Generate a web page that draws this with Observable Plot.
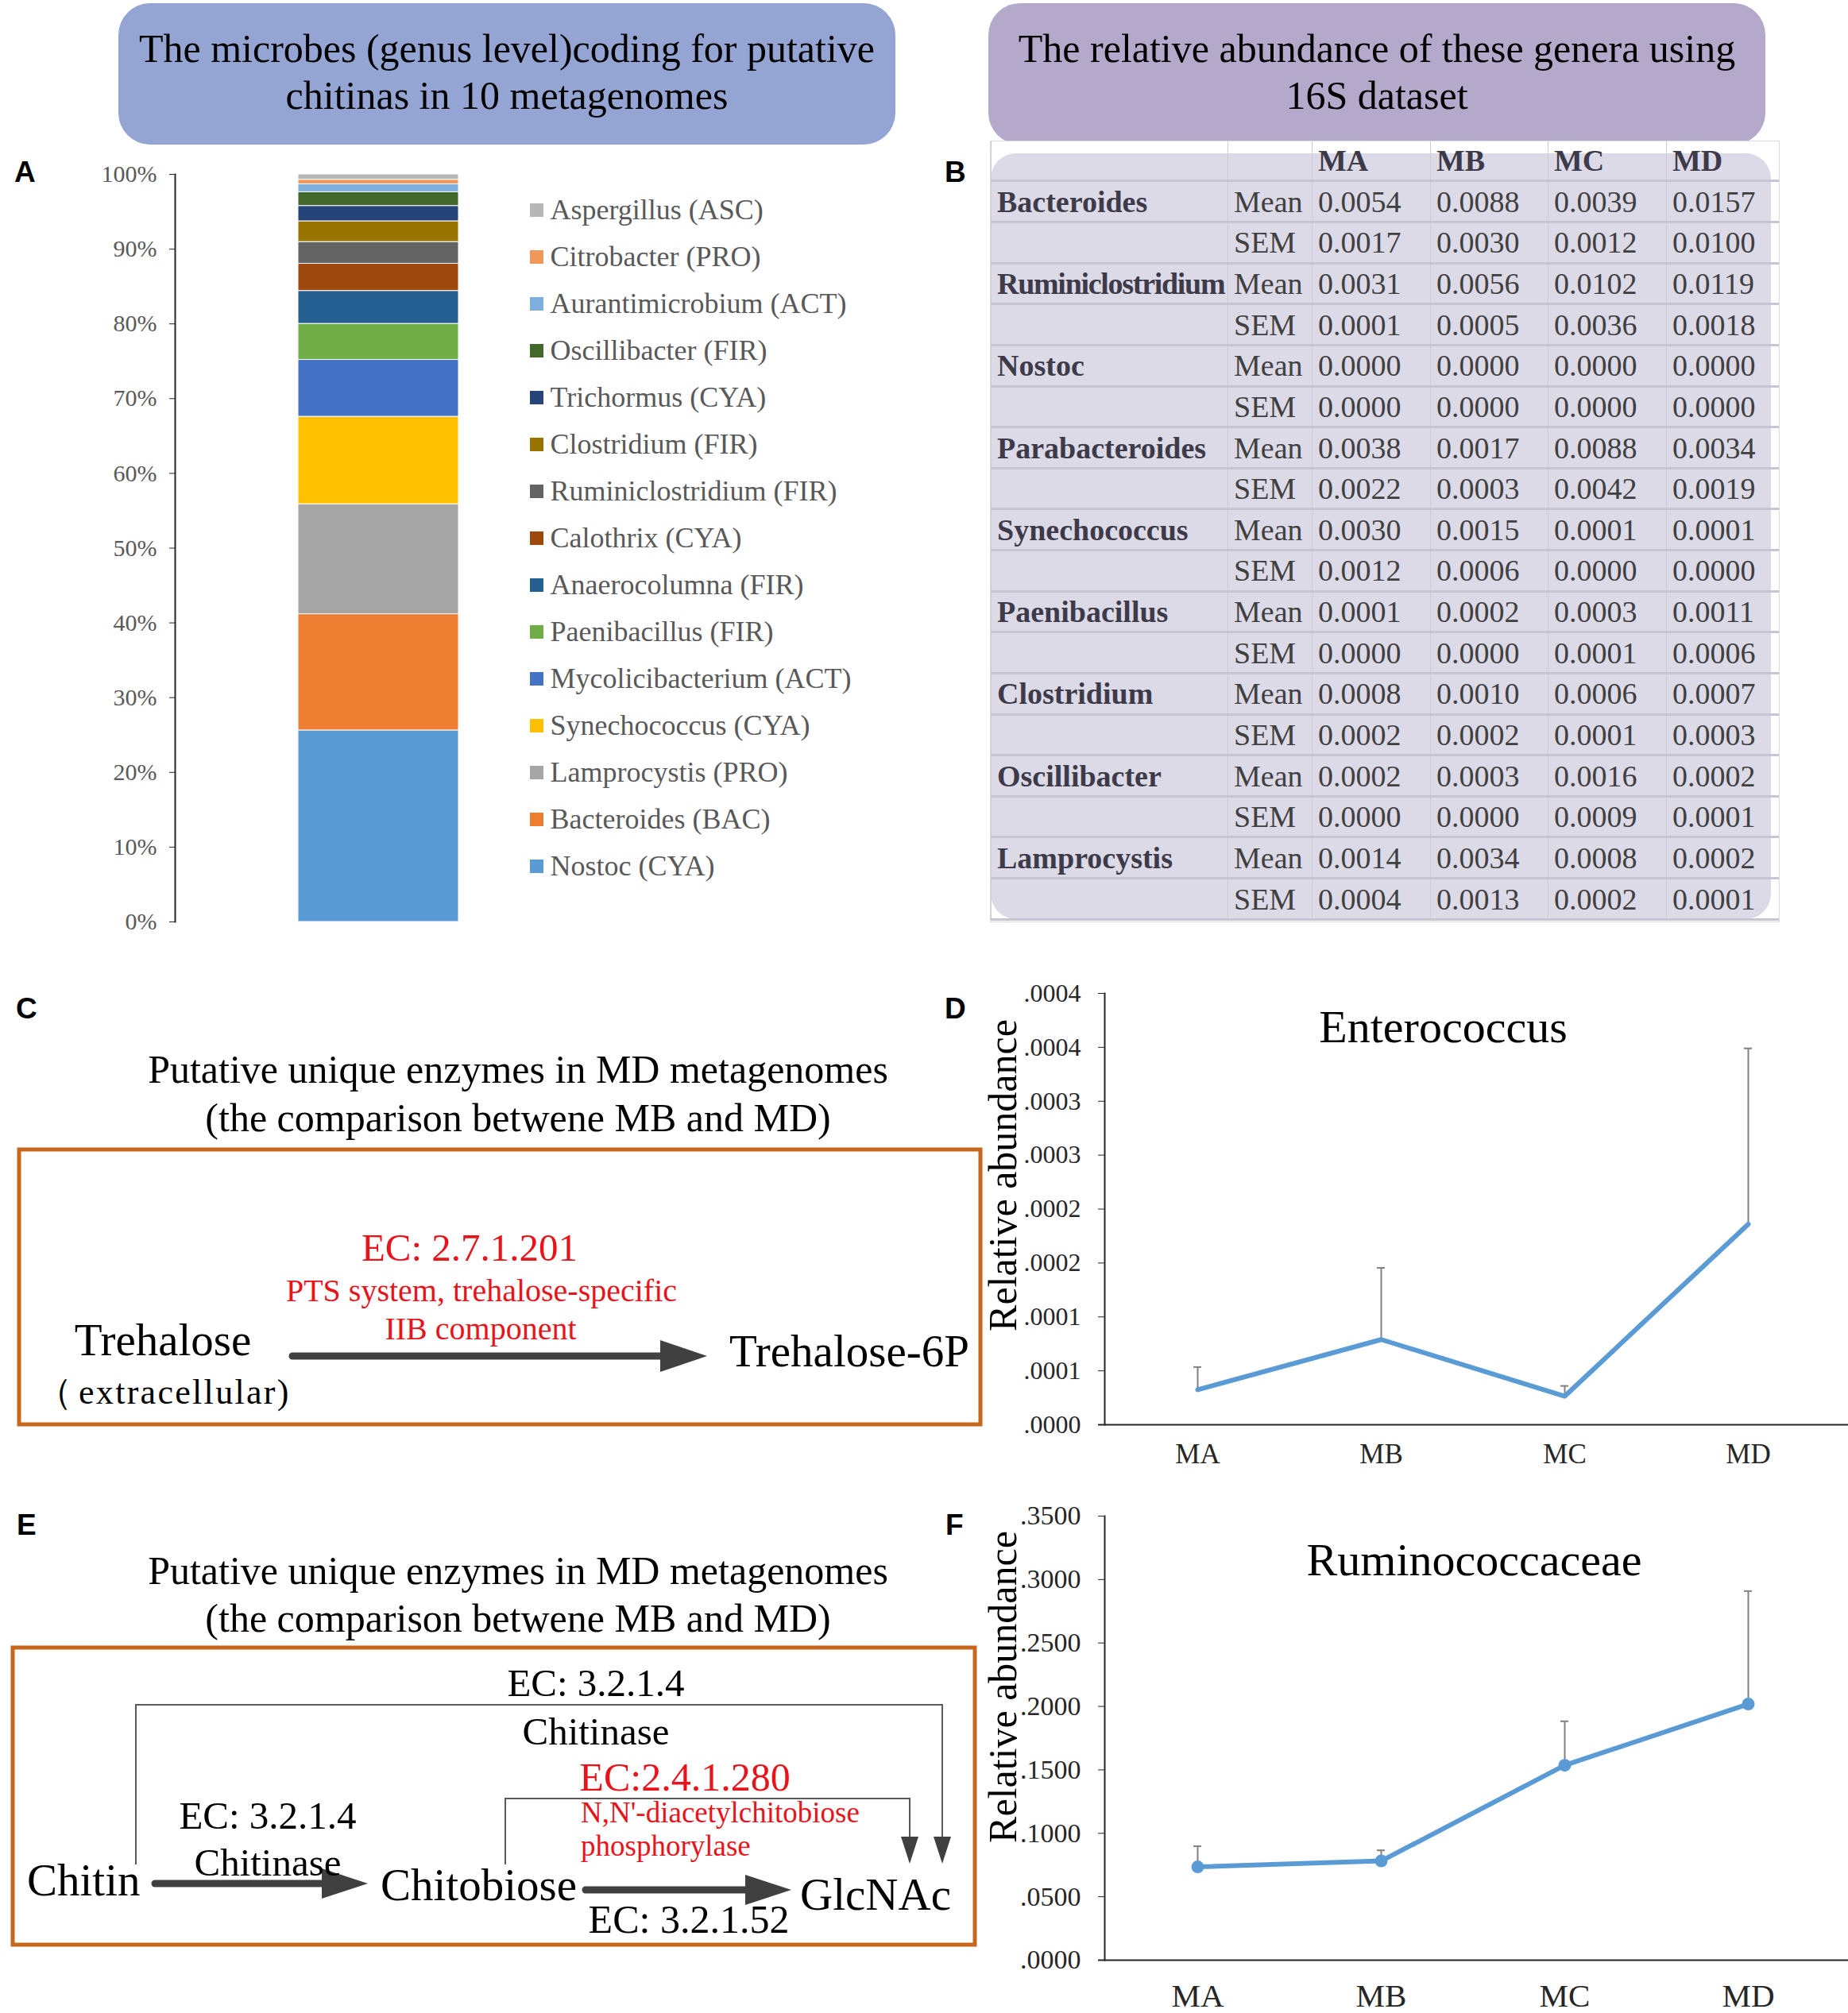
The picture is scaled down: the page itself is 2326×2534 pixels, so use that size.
<!DOCTYPE html>
<html>
<head>
<meta charset="utf-8">
<script src="https://cdn.jsdelivr.net/npm/d3@7"></script>
<script src="https://cdn.jsdelivr.net/npm/@observablehq/plot@0.6"></script>
<style>
  body { margin: 0; background: #fff; }
  #root { position: relative; width: 2326px; height: 2534px; overflow: hidden; background: #fff;
          font-family: "Liberation Serif", "Times New Roman", serif; }
  .box { position: absolute; display: flex; align-items: center; justify-content: center; text-align: center;
         font-size: 50px; line-height: 59px; color: #000; box-sizing: border-box; padding-bottom: 4px; }
  #tblwrap { position: absolute; left: 1246px; top: 177px; width: 994px; height: 984px; box-sizing: border-box;
             border: 1.5px solid #DADADA; background: #fff; }
  #tblbg { position: absolute; left: 0; top: 15px; width: 982px; height: 964px; border-radius: 32px; background: #DDDAE8; }
  #tbl { position: absolute; left: 0; top: 0; width: 991px; height: 981px; border-collapse: collapse; table-layout: fixed;
         font-size: 38px; color: #404040; }
  #tbl td { padding: 0 0 0 7px; white-space: nowrap; overflow: hidden; vertical-align: middle;
            border-left: 1.5px solid #CBCAD5; border-bottom: 3px solid #C6C5D1; }
  #tbl td.name, #tbl td.head { font-weight: bold; color: #3D3B4A; }
</style>
</head>
<body>
<div id="root"></div>
<script>
// ---------------- DATA ----------------
// Panel A: share (%) of genera coding for putative chitinases (stack order bottom -> top)
const genera = ["Nostoc (CYA)", "Bacteroides (BAC)", "Lamprocystis (PRO)", "Synechococcus (CYA)",
  "Mycolicibacterium (ACT)", "Paenibacillus (FIR)", "Anaerocolumna (FIR)", "Calothrix (CYA)",
  "Ruminiclostridium (FIR)", "Clostridium (FIR)", "Trichormus (CYA)", "Oscillibacter (FIR)",
  "Aurantimicrobium (ACT)", "Citrobacter (PRO)", "Aspergillus (ASC)"];
const shares = [25.62, 15.55, 14.71, 11.70, 7.61, 4.82, 4.40, 3.64, 2.91, 2.77, 2.05, 1.84, 1.06, 0.61, 0.71];
const generaColors = ["#5B9BD5", "#ED7D31", "#A5A5A5", "#FFC000", "#4472C4", "#70AD47", "#255E91", "#9E480E",
  "#636363", "#997300", "#264478", "#43682B", "#7CAFDD", "#F1975A", "#B7B7B7"];
const percentTicks = [0, 10, 20, 30, 40, 50, 60, 70, 80, 90, 100];

// Panel B: table of 16S relative abundance
const samples = ["MA", "MB", "MC", "MD"];
const tableGenera = ["Bacteroides", "Ruminiclostridium", "Nostoc", "Parabacteroides", "Synechococcus",
  "Paenibacillus", "Clostridium", "Oscillibacter", "Lamprocystis"];
const tableMean = [
  [0.0054, 0.0088, 0.0039, 0.0157], [0.0031, 0.0056, 0.0102, 0.0119], [0.0000, 0.0000, 0.0000, 0.0000],
  [0.0038, 0.0017, 0.0088, 0.0034], [0.0030, 0.0015, 0.0001, 0.0001], [0.0001, 0.0002, 0.0003, 0.0011],
  [0.0008, 0.0010, 0.0006, 0.0007], [0.0002, 0.0003, 0.0016, 0.0002], [0.0014, 0.0034, 0.0008, 0.0002]];
const tableSem = [
  [0.0017, 0.0030, 0.0012, 0.0100], [0.0001, 0.0005, 0.0036, 0.0018], [0.0000, 0.0000, 0.0000, 0.0000],
  [0.0022, 0.0003, 0.0042, 0.0019], [0.0012, 0.0006, 0.0000, 0.0000], [0.0000, 0.0000, 0.0001, 0.0006],
  [0.0002, 0.0002, 0.0001, 0.0003], [0.0000, 0.0000, 0.0009, 0.0001], [0.0004, 0.0013, 0.0002, 0.0001]];

// Panel D: Enterococcus
const enteroMean = [0.0000325, 0.0000790, 0.0000265, 0.0001860];
const enteroSem = [0.0000210, 0.0000665, 0.0000095, 0.0001630];
const enteroTicks = [0, 0.00005, 0.0001, 0.00015, 0.0002, 0.00025, 0.0003, 0.00035, 0.0004];
const enteroTickLabels = [".0000", ".0001", ".0001", ".0002", ".0002", ".0003", ".0003", ".0004", ".0004"];

// Panel F: Ruminococcaceae
const ruminoMean = [0.0735, 0.0782, 0.1536, 0.2019];
const ruminoSem = [0.0163, 0.0084, 0.0347, 0.0890];
const ruminoTicks = [0, 0.05, 0.10, 0.15, 0.20, 0.25, 0.30, 0.35];
const ruminoTickLabels = [".0000", ".0500", ".1000", ".1500", ".2000", ".2500", ".3000", ".3500"];

// ---------------- LAYOUT ----------------
const SERIF = "'Liberation Serif', 'Times New Roman', serif";
const SANS = "'Liberation Sans', Arial, sans-serif";
const root = document.getElementById("root");
function place(node, left, top, w, h) {
  const d = document.createElement("div");
  d.style.cssText = `position:absolute;left:${left}px;top:${top}px;width:${w}px;height:${h}px;`;
  d.appendChild(node);
  root.appendChild(d);
  return d;
}
const baseStyle = (fs) => ({background: "transparent", fontFamily: SERIF, fontSize: fs + "px", overflow: "visible", color: "#000"});

// Title boxes
function titleBox(text, left, bg) {
  const b = document.createElement("div");
  b.className = "box";
  b.style.left = left + "px"; b.style.top = "4px"; b.style.width = "978px"; b.style.height = "178px";
  b.style.borderRadius = "40px"; b.style.background = bg;
  b.innerHTML = text;
  root.appendChild(b);
}
titleBox("The microbes (genus level)coding for putative<br>chitinas in 10 metagenomes", 149, "#94A5D3");
titleBox("The relative abundance of these genera using<br>16S dataset", 1244, "#B4A8CB");

// ---------- Panel A: stacked bar ----------
const stackRows = genera.map((g, i) => ({genus: g, share: shares[i], group: "10 metagenomes"}));
const chartA = Plot.plot({
  width: 600, height: 1000,
  marginTop: 29, marginBottom: 30, marginLeft: 220, marginRight: 0,
  style: baseStyle(30),
  x: {domain: ["10 metagenomes"], range: [375, 577], padding: 0, axis: null},
  y: {domain: [0, 100]},
  color: {domain: genera, range: generaColors},
  marks: [
    Plot.barY(stackRows, {x: "group", y: "share", fill: "genus", stroke: "#ffffff", strokeWidth: 1}),
    Plot.frame({anchor: "left", stroke: "#262626", strokeWidth: 2}),
    Plot.axisY({ticks: percentTicks, tickFormat: d => d + "%", tickSize: 7, tickPadding: 16,
      stroke: "#262626", fill: "#595959", fontSize: 30, label: null})
  ]
});
place(chartA, 0, 190, 600, 1000);

// Legend for A
const legendOrder = genera.slice().reverse();
const chartLegend = Plot.plot({
  width: 480, height: 960, margin: 0,
  style: baseStyle(36),
  y: {type: "point", domain: legendOrder, range: [58, 895], padding: 0, axis: null},
  color: {domain: genera, range: generaColors},
  marks: [
    Plot.dot(legendOrder, {y: d => d, fill: d => d, symbol: "square", r: 9.6, frameAnchor: "left", dx: 35}),
    Plot.text(legendOrder, {y: d => d, text: d => d, frameAnchor: "left", dx: 52, textAnchor: "start",
      fill: "#595959", fontSize: 36})
  ]
});
place(chartLegend, 640, 200, 480, 960);

// ---------- Panel B: table ----------
const wrap = document.createElement("div");
wrap.id = "tblwrap";
wrap.innerHTML = '<div id="tblbg"></div>';
const tbl = document.createElement("table");
tbl.id = "tbl";
const colW = [298, 106, 149, 148, 149, 141];
let html = "<colgroup>" + colW.map(w => `<col style="width:${w}px">`).join("") + "</colgroup>";
html += "<tr><td></td><td></td>" + samples.map(s => `<td class="head">${s}</td>`).join("") + "</tr>";
tableGenera.forEach((g, i) => {
  html += `<tr><td class="name">${g}</td><td>Mean</td>` + tableMean[i].map(v => `<td>${v.toFixed(4)}</td>`).join("") + "</tr>";
  html += `<tr><td></td><td>SEM</td>` + tableSem[i].map(v => `<td>${v.toFixed(4)}</td>`).join("") + "</tr>";
});
tbl.innerHTML = html;
wrap.appendChild(tbl);
root.appendChild(wrap);
// condense a genus name that is wider than its column so it stays inside the cell
tbl.querySelectorAll("td.name").forEach(td => {
  const over = td.scrollWidth - td.clientWidth;
  if (over > 0) td.style.letterSpacing = (-(over + 4) / td.textContent.length).toFixed(2) + "px";
});

// ---------- line charts with upward SEM bars ----------
function lineChart({rows, ticks, labels, ymax, title, titleDx, titleDy, ylabDy, marginTop, marginBottom, height,
                    tickFont, xFont, xPad, dots}) {
  return Plot.plot({
    width: 1126, height,
    marginTop, marginBottom, marginLeft: 190, marginRight: 10,
    style: baseStyle(tickFont),
    x: {type: "point", domain: samples, padding: 0.5},
    y: {domain: [0, ymax]},
    marks: [
      Plot.ruleY([0], {stroke: "#262626", strokeWidth: 2, insetLeft: -8, insetRight: -10}),
      Plot.frame({anchor: "left", stroke: "#262626", strokeWidth: 2}),
      Plot.axisY({ticks, tickFormat: d => labels[ticks.indexOf(d)], tickSize: 8, tickPadding: 22,
        stroke: "#262626", fill: "#262626", fontSize: tickFont, label: null}),
      Plot.axisX({tickSize: 0, tickPadding: xPad, fill: "#262626", fontSize: xFont, label: null}),
      Plot.ruleX(rows, {x: "sample", y1: "mean", y2: "top", stroke: "#808080", strokeWidth: 2}),
      Plot.ruleY(rows, {x1: "sample", x2: "sample", y: "top", stroke: "#808080", strokeWidth: 2, insetLeft: -5, insetRight: -5}),
      Plot.lineY(rows, {x: "sample", y: "mean", stroke: "#5B9BD5", strokeWidth: 6}),
      ...(dots ? [Plot.dot(rows, {x: "sample", y: "mean", r: 8, fill: "#5B9BD5"})] : []),
      Plot.text([title], {frameAnchor: "top", textAnchor: "middle", lineAnchor: "middle", dx: titleDx, dy: titleDy,
        fontSize: 58, fill: "#000"}),
      Plot.text(["Relative abundance"], {frameAnchor: "left", textAnchor: "middle", lineAnchor: "middle", rotate: -90,
        dx: -128, dy: ylabDy, fontSize: 50, fill: "#000"})
    ]
  });
}

// Panel D
const enteroRows = samples.map((s, i) => ({sample: s, mean: enteroMean[i], top: enteroMean[i] + enteroSem[i]}));
const chartD = lineChart({rows: enteroRows, ticks: enteroTicks, labels: enteroTickLabels, ymax: 0.0004,
  title: "Enterococcus", titleDx: -37, titleDy: 43, ylabDy: -42.5, marginTop: 20, marginBottom: 77, height: 640,
  tickFont: 32, xFont: 35, xPad: 24, dots: false});
place(chartD, 1200, 1230, 1126, 640);

// Panel F
const ruminoRows = samples.map((s, i) => ({sample: s, mean: ruminoMean[i], top: ruminoMean[i] + ruminoSem[i]}));
const chartF = lineChart({rows: ruminoRows, ticks: ruminoTicks, labels: ruminoTickLabels, ymax: 0.35,
  title: "Ruminococcaceae", titleDx: 2, titleDy: 56, ylabDy: -64.5, marginTop: 28, marginBottom: 67, height: 654,
  tickFont: 34, xFont: 41, xPad: 29, dots: true});
place(chartF, 1200, 1880, 1126, 654);

// ---------- Panels C & E: pathway schematics + panel letters ----------
const RED = "#E8141B", DARK = "#404040", ORANGE = "#C8661E";
const svgNS = "http://www.w3.org/2000/svg";
const diag = document.createElementNS(svgNS, "svg");
diag.setAttribute("width", 1240); diag.setAttribute("height", 2534);
diag.style.cssText = "position:absolute;left:0;top:0;overflow:visible;";
diag.setAttribute("font-family", SERIF);
diag.innerHTML = `
  <g font-family="${SANS}" font-weight="bold" font-size="37" fill="#000">
    <text x="18" y="229">A</text><text x="1189" y="229">B</text>
    <text x="20" y="1282">C</text><text x="1189" y="1282">D</text>
    <text x="21" y="1932">E</text><text x="1190" y="1932">F</text>
  </g>
  <g font-size="50" text-anchor="middle" fill="#000">
    <text x="652" y="1363">Putative unique enzymes in MD metagenomes</text>
    <text x="652" y="1424">(the comparison betwene MB and MD)</text>
    <text x="652" y="1994">Putative unique enzymes in MD metagenomes</text>
    <text x="652" y="2054">(the comparison betwene MB and MD)</text>
  </g>
  <rect x="24" y="1447" width="1210" height="346" fill="none" stroke="${ORANGE}" stroke-width="5"/>
  <text x="591" y="1587" fill="${RED}" font-size="49" text-anchor="middle">EC: 2.7.1.201</text>
  <text x="606" y="1638" fill="${RED}" font-size="40" text-anchor="middle">PTS system, trehalose-specific</text>
  <text x="605" y="1686" fill="${RED}" font-size="40" text-anchor="middle">IIB component</text>
  <text x="205" y="1706" font-size="57" text-anchor="middle">Trehalose</text>
  <text y="1767" font-size="45"><tspan x="46">（</tspan><tspan x="99" letter-spacing="2.3" font-size="44">extracellular)</tspan></text>
  <line x1="368" y1="1707" x2="834" y2="1707" stroke="${DARK}" stroke-width="9" stroke-linecap="round"/>
  <polygon points="831,1687 890,1707 831,1727" fill="${DARK}"/>
  <text x="918" y="1720" font-size="57">Trehalose-6P</text>

  <rect x="16" y="2074" width="1211" height="374" fill="none" stroke="${ORANGE}" stroke-width="5"/>
  <text x="750" y="2135" font-size="49" text-anchor="middle">EC: 3.2.1.4</text>
  <polyline points="171,2347 171,2146 1186,2146 1186,2318" fill="none" stroke="#5a5a5a" stroke-width="2"/>
  <polygon points="1175,2312 1197,2312 1186,2346" fill="${DARK}"/>
  <text x="750" y="2196" font-size="49" text-anchor="middle">Chitinase</text>
  <text x="862" y="2254" fill="${RED}" font-size="50" text-anchor="middle">EC:2.4.1.280</text>
  <polyline points="636,2347 636,2264 1145,2264 1145,2318" fill="none" stroke="#5a5a5a" stroke-width="2"/>
  <polygon points="1134,2312 1156,2312 1145,2346" fill="${DARK}"/>
  <text x="731" y="2294" fill="${RED}" font-size="37">N,N'-diacetylchitobiose</text>
  <text x="731" y="2336" fill="${RED}" font-size="37">phosphorylase</text>
  <text x="337" y="2302" font-size="49" text-anchor="middle">EC: 3.2.1.4</text>
  <line x1="195" y1="2371" x2="408" y2="2371" stroke="${DARK}" stroke-width="9" stroke-linecap="round"/>
  <polygon points="405,2352 463,2371 405,2390" fill="${DARK}"/>
  <text x="337" y="2361" font-size="49" text-anchor="middle">Chitinase</text>
  <text x="34" y="2386" font-size="57">Chitin</text>
  <line x1="737" y1="2379" x2="941" y2="2379" stroke="${DARK}" stroke-width="9" stroke-linecap="round"/>
  <polygon points="938,2360 996,2379 938,2398" fill="${DARK}"/>
  <text x="479" y="2392" font-size="57">Chitobiose</text>
  <text x="1007" y="2404" font-size="57">GlcNAc</text>
  <text x="867" y="2433" font-size="50" text-anchor="middle">EC: 3.2.1.52</text>
`;
root.appendChild(diag);
</script>
</body>
</html>
